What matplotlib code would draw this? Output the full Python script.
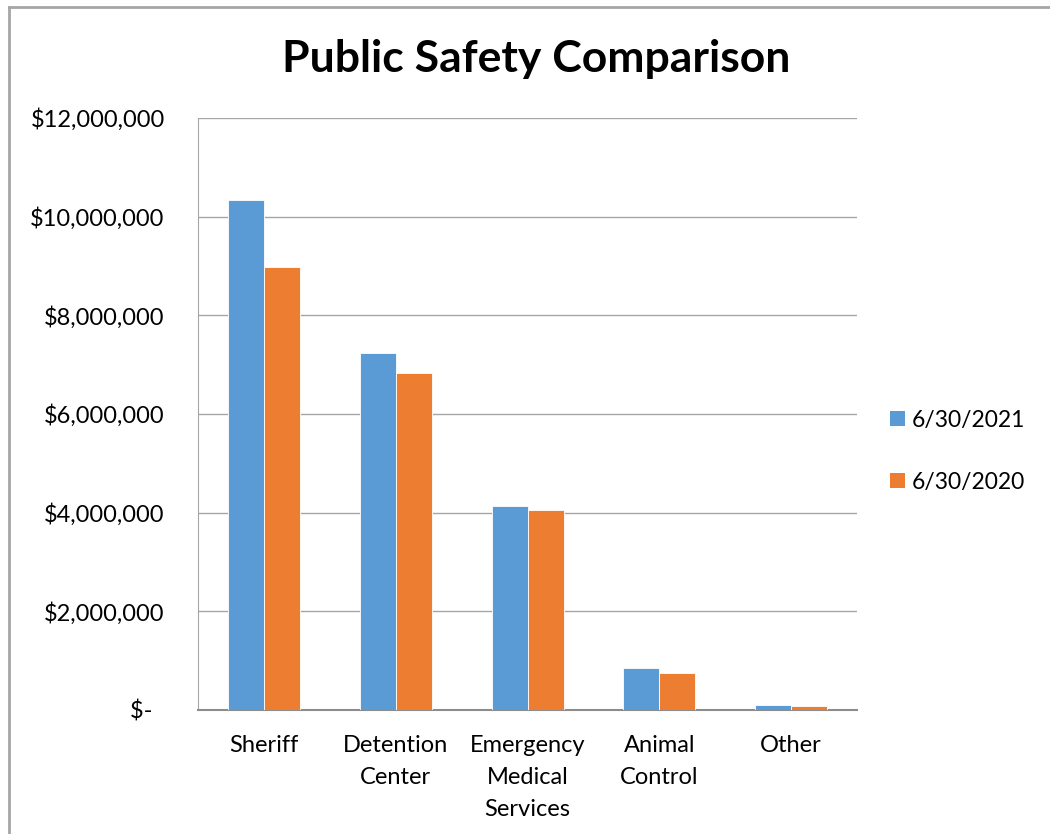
import numpy as np
import matplotlib.pyplot as plt
from matplotlib.lines import Line2D
from matplotlib.patches import Patch

categorias = ['Sheriff', 'Detention\nCenter', 'Emergency\nMedical\nServices', 'Animal\nControl', 'Other']
valores_2021 = [10340000, 7240000, 4140000, 850000, 100000]
valores_2020 = [8970000, 6830000, 4050000, 750000, 80000]
rotulos = ['6/30/2021', '6/30/2020']
yticks = [0, 2000000, 4000000, 6000000, 8000000, 10000000, 12000000]
ytick_labels = ['$-  ', '$2,000,000', '$4,000,000', '$6,000,000', '$8,000,000', '$10,000,000', '$12,000,000']

azul = '#5B9BD5'
laranja = '#ED7D31'
cinza = '#A6A6A6'

plt.rcParams['font.family'] = ['Lato', 'DejaVu Sans']

fig = plt.figure(figsize=(10.5, 8.34), dpi=100)
ax = fig.add_axes([0.1886, 0.1487, 0.6276, 0.7098])

x = np.arange(len(categorias))
w = 0.273
ax.bar(x - w / 2, valores_2021, w, color=azul, edgecolor='white', linewidth=0.6, zorder=3)
ax.bar(x + w / 2, valores_2020, w, color=laranja, edgecolor='white', linewidth=0.6, zorder=3)

ax.set_xlim(-0.5, len(categorias) - 0.5)
ax.set_ylim(0, 12000000)
ax.set_yticks(yticks)
ax.set_yticklabels(ytick_labels, fontsize=17)
ax.set_xticks(x)
ax.set_xticklabels(categorias, fontsize=17, linespacing=1.65)
ax.tick_params(axis='both', length=0, colors='black')
ax.tick_params(axis='y', pad=24)
ax.tick_params(axis='x', pad=18)
ax.grid(axis='y', color=cinza, linewidth=1, zorder=0)

for lado in ['top', 'right']:
    ax.spines[lado].set_visible(False)
ax.spines['left'].set_color(cinza)
ax.spines['bottom'].set_color('#8C8C8C')
ax.spines['bottom'].set_linewidth(1.5)

fig.text(0.511, 0.929, 'Public Safety Comparison', ha='center', va='center',
         fontsize=32, fontweight='bold')

handles = [Patch(facecolor=azul, edgecolor='none'), Patch(facecolor=laranja, edgecolor='none')]
fig.legend(handles, rotulos, loc='center left', bbox_to_anchor=(0.828, 0.459),
           frameon=False, fontsize=16.5, handlelength=0.65, handleheight=0.65,
           handletextpad=0.3, labelspacing=1.8)

# borda da figura (esquerda e topo)
fig.add_artist(Line2D([0.0085, 0.0085], [0, 0.992], transform=fig.transFigure, color=cinza, linewidth=2))
fig.add_artist(Line2D([0.0085, 1], [0.992, 0.992], transform=fig.transFigure, color=cinza, linewidth=2))

fig.savefig('out.png', dpi=100, facecolor='white')
